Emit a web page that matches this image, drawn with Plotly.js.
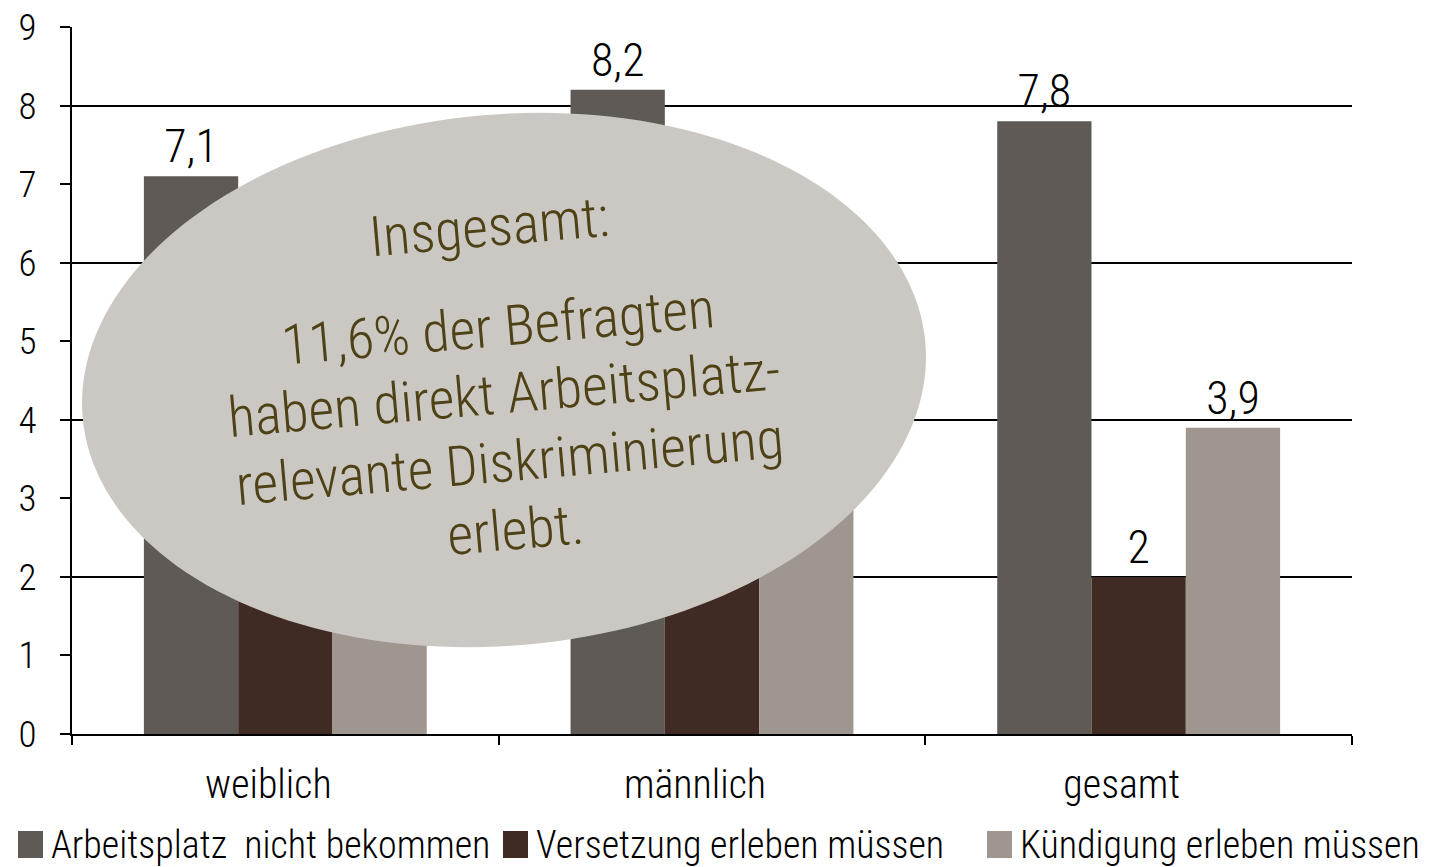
<!DOCTYPE html>
<html>
<head>
<meta charset="utf-8">
<script src="https://cdn.plot.ly/plotly-3.0.1.min.js"></script>
<style>
html,body{margin:0;padding:0;background:#fff;}#chart{width:1440px;height:867px;}
text[style*="Roboto"]{font-stretch:75% !important;}
</style>
</head>
<body>
<div id="chart"></div>
<script>
// ---- data ----
const categories = ["weiblich", "männlich", "gesamt"];
const seriesNames = ["Arbeitsplatz  nicht bekommen", "Versetzung erleben müssen", "Kündigung erleben müssen"];
const arbeitsplatz = [7.1, 8.2, 7.8];
const versetzung = [1.9, 2.1, 2];
const kuendigung = [3.1, 4.3, 3.9];
const yTickVals = [0, 1, 2, 3, 4, 5, 6, 7, 8, 9];
const calloutTitle = "Insgesamt:";
const calloutLines = ["11,6% der Befragten", "haben direkt Arbeitsplatz-", "relevante Diskriminierung", "erlebt."];

// ---- style ----
const W = 1440, H = 867;
const M = {l: 72, r: 88, t: 27, b: 133, autoexpand: false};
const PW = W - M.l - M.r, PH = H - M.t - M.b;
const FONT = 'Roboto';
const WEIGHT = 350;
const colors = ["#5f5a56", "#3f2b23", "#9f9690"];

const fmt = v => String(v).replace('.', ',');
function makeBar(name, vals, color) {
  return {
    type: 'bar', name: name, x: categories, y: vals,
    marker: {color: color, line: {width: 0}},
    text: vals.map(fmt), textposition: 'outside', cliponaxis: false,
    textfont: {family: FONT, size: 46, color: '#000', weight: WEIGHT},
    hoverinfo: 'skip', showlegend: false
  };
}
const data = [
  makeBar(seriesNames[0], arbeitsplatz, colors[0]),
  makeBar(seriesNames[1], versetzung, colors[1]),
  makeBar(seriesNames[2], kuendigung, colors[2])
];
// helper trace that carries the every-2 gridlines
data.push({type: 'scatter', x: [categories[0]], y: [null], yaxis: 'y2', showlegend: false, hoverinfo: 'skip', mode: 'markers'});

function px2paper(x, y) { return [(x - M.l) / PW, (H - M.b - y) / PH]; }
function ellipsePath(cx, cy, a, b, deg, n) {
  const th = deg * Math.PI / 180;
  let d = '';
  for (let i = 0; i <= n; i++) {
    const t = 2 * Math.PI * i / n;
    const x = cx + a * Math.cos(th) * Math.cos(t) - b * Math.sin(th) * Math.sin(t);
    const y = cy + a * Math.sin(th) * Math.cos(t) + b * Math.cos(th) * Math.sin(t);
    const p = px2paper(x, y);
    d += (i === 0 ? 'M' : 'L') + p[0].toFixed(5) + ',' + p[1].toFixed(5);
  }
  return d + 'Z';
}

// callout text lines, rotated -5deg around block centre
const ROT = 5 * Math.PI / 180;
const C = {x: 507, y: 428};
const lineOffsets = [-101, -34, 34, 102];
const calloutFont = {family: FONT, size: 56, color: '#4d4115', weight: WEIGHT};
function rotatedPos(k) { return px2paper(C.x + k * Math.sin(ROT), C.y + k * Math.cos(ROT)); }
const calloutAnn = [{text: calloutTitle, k: -202}].concat(calloutLines.map((t, i) => ({text: t, k: lineOffsets[i]})))
  .map(o => {
    const p = rotatedPos(o.k);
    return {xref: 'paper', yref: 'paper', x: p[0], y: p[1], xanchor: 'center', yanchor: 'middle',
      text: o.text, showarrow: false, textangle: -5, font: calloutFont};
  });

// manual legend (large square swatches)
const legendX = [18, 503, 987];
const legendShapes = legendX.map((x, i) => {
  const p0 = px2paper(x, 831), p1 = px2paper(x + 25, 858);
  return {type: 'rect', xref: 'paper', yref: 'paper', x0: p0[0], y0: p1[1], x1: p1[0], y1: p0[1],
    fillcolor: colors[i], line: {width: 0}, layer: 'above'};
});
const legendAnn = legendX.map((x, i) => {
  const p = px2paper(x + 31, 845);
  return {xref: 'paper', yref: 'paper', x: p[0], y: p[1], xanchor: 'left', yanchor: 'middle',
    text: seriesNames[i], showarrow: false, font: {family: FONT, size: 38, color: '#000', weight: WEIGHT}};
});

const layout = {
  width: W, height: H,
  margin: M,
  paper_bgcolor: '#fff', plot_bgcolor: 'rgba(0,0,0,0)',
  font: {family: FONT, color: '#000', size: 36, weight: WEIGHT},
  barmode: 'group', bargap: 0.337, bargroupgap: 0,
  showlegend: false,
  xaxis: {
    type: 'category', showline: true, linecolor: '#000', linewidth: 2,
    ticks: 'outside', tickson: 'boundaries', ticklen: 9, tickwidth: 2, tickcolor: '#000',
    showgrid: false, zeroline: false,
    tickfont: {family: FONT, size: 40, color: '#000', weight: WEIGHT},
    ticklabelshift: -17, ticklabelstandoff: 14
  },
  yaxis: {
    range: [0, 9], tickvals: yTickVals, ticktext: yTickVals.map(String),
    showline: true, linecolor: '#000', linewidth: 2,
    ticks: 'outside', ticklen: 10, tickwidth: 2, tickcolor: '#000',
    showgrid: false, zeroline: false,
    tickfont: {family: FONT, size: 37, color: '#000', weight: WEIGHT},
    ticklabelstandoff: 16
  },
  yaxis2: {
    range: [0, 9], overlaying: 'y', dtick: 2, tick0: 0, showgrid: true,
    gridcolor: '#000', gridwidth: 2, showticklabels: false, ticks: '',
    zeroline: false, showline: false
  },
  shapes: [{
    type: 'path', xref: 'paper', yref: 'paper', layer: 'above',
    path: ellipsePath(504, 380, 423, 265.5, -5.15, 180),
    fillcolor: '#cbc8c3', line: {width: 0}
  }].concat(legendShapes),
  annotations: calloutAnn.concat(legendAnn)
};

Plotly.newPlot('chart', data, layout, {staticPlot: true, displayModeBar: false});
</script>
</body>
</html>
